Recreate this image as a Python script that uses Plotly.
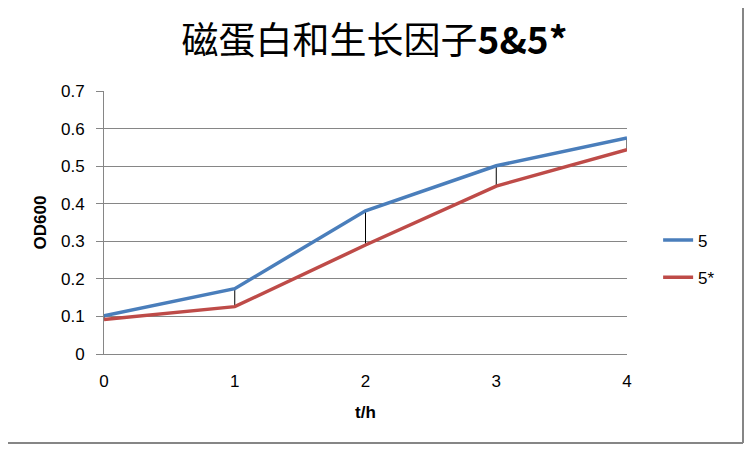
import plotly.graph_objects as go

# data
hours = [0, 1, 2, 3, 4]
od_5 = [0.102, 0.174, 0.381, 0.501, 0.575]
od_5_star = [0.092, 0.126, 0.290, 0.447, 0.544]
series_names = ['5', '5*']
y_ticks = [0, 0.1, 0.2, 0.3, 0.4, 0.5, 0.6, 0.7]
y_tick_labels = ['0', '0.1', '0.2', '0.3', '0.4', '0.5', '0.6', '0.7']

grey = '#868686'
font_family = 'Liberation Sans, Noto Sans CJK SC, sans-serif'

# the page body adds an 8px margin, so the figure is smaller than the window
W, H = 736, 436
plot_w, plot_h = 523, 263

# high-low lines between the two series
hl_x, hl_y = [], []
for h, a, b in zip(hours, od_5, od_5_star):
    hl_x += [h, h, None]
    hl_y += [a, b, None]

fig = go.Figure()

fig.add_trace(go.Scatter(
    x=hl_x, y=hl_y, mode='lines',
    line=dict(color='black', width=1),
    showlegend=False, hoverinfo='skip'
))

fig.add_trace(go.Scatter(
    x=hours, y=od_5, mode='lines', name=series_names[0],
    legendgroup='a',
    line=dict(color='#4A7EBB', width=3.5)
))

fig.add_trace(go.Scatter(
    x=hours, y=od_5_star, mode='lines', name=series_names[1],
    legendgroup='b',
    line=dict(color='#BE4B48', width=3.5)
))

fig.update_layout(
    width=W, height=H,
    margin=dict(l=96, r=W - 96 - plot_w, t=83, b=H - 83 - plot_h),
    paper_bgcolor='white',
    plot_bgcolor='white',
    font=dict(family=font_family, size=17, color='black'),
    title=dict(
        text='磁蛋白和生长因子<b>5&5*</b>',
        font=dict(family='Noto Sans CJK SC, Liberation Sans, sans-serif', size=37),
        x=366.5 / W, xanchor='center',
        y=1 - 33.5 / H, yanchor='middle'
    ),
    xaxis=dict(
        range=[0, 4],
        tickvals=hours,
        ticks='',
        showgrid=False,
        showline=True, linecolor=grey, linewidth=1,
        zeroline=False,
        ticklabelstandoff=12,
        title=dict(text='<b>t/h</b>', font=dict(size=17), standoff=15),
    ),
    yaxis=dict(
        range=[0, 0.7],
        tickvals=y_ticks,
        ticktext=y_tick_labels,
        ticks='outside', ticklen=7, tickcolor=grey,
        showgrid=True, gridcolor=grey, gridwidth=1,
        showline=True, linecolor=grey, linewidth=1,
        zeroline=False,
        ticklabelstandoff=8,
        title=dict(text='<b>OD600</b>', font=dict(size=17), standoff=10),
    ),
    legend=dict(
        x=1.0595, xanchor='left',
        y=0.361, yanchor='middle',
        font=dict(size=17),
        tracegroupgap=12,
        bgcolor='rgba(0,0,0,0)'
    ),
    # chart border: right and bottom edges
    shapes=[
        dict(type='line', xref='paper', yref='paper',
             x0=(W - 1 - 96) / plot_w, x1=(W - 1 - 96) / plot_w,
             y0=-(H - 1 - 83 - plot_h) / plot_h, y1=(plot_h + 83) / plot_h,
             line=dict(color=grey, width=2)),
        dict(type='line', xref='paper', yref='paper',
             x0=-96 / plot_w, x1=(W - 1 - 96) / plot_w,
             y0=-(H - 1 - 83 - plot_h) / plot_h, y1=-(H - 1 - 83 - plot_h) / plot_h,
             line=dict(color=grey, width=2)),
    ]
)

fig.write_html("out.html")
